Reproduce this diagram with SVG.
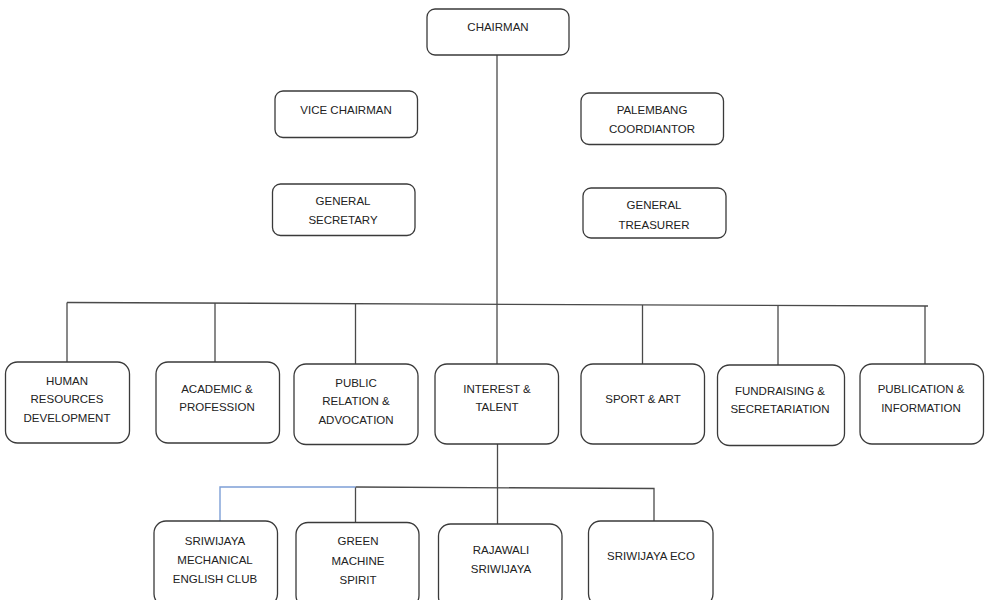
<svg xmlns="http://www.w3.org/2000/svg" width="986" height="600" viewBox="0 0 986 600">
<style>
.box{fill:#fff;stroke:#3a3a3a;stroke-width:1.3}
.t{font-family:"Liberation Sans",Arial,sans-serif;font-size:11.5px;fill:#222;text-anchor:middle}
.ln{stroke:#4a4a4a;stroke-width:1.3;fill:none}
.blue{stroke:#7d9fd6;stroke-width:1.4;fill:none}
</style>
<rect width="986" height="600" fill="#fff"/>
<g id="connectors">
<line class="ln" x1="497" y1="55" x2="497" y2="364"/>
<line class="ln" x1="67" y1="302.5" x2="928" y2="306"/>
<line class="ln" x1="67" y1="302.5" x2="67" y2="362"/>
<line class="ln" x1="215" y1="303" x2="215" y2="362"/>
<line class="ln" x1="355.5" y1="304" x2="355.5" y2="364"/>
<line class="ln" x1="642.5" y1="305" x2="642.5" y2="364"/>
<line class="ln" x1="778" y1="305.5" x2="778" y2="365"/>
<line class="ln" x1="925" y1="306" x2="925" y2="364"/>
<line class="ln" x1="497.5" y1="444" x2="497.5" y2="524"/>
<polyline class="ln" points="355.5,487 654,488.5 654,521"/>
<line class="ln" x1="355.5" y1="487" x2="355.5" y2="522.5"/>
<polyline class="blue" points="220,521 220,487 355.5,487"/>
</g>
<g id="chairman"><rect class="box" x="427" y="9" width="142" height="46" rx="8"/><text class="t" x="498" y="31">CHAIRMAN</text></g>
<g id="vice-chairman"><rect class="box" x="275" y="91" width="142.5" height="46.5" rx="8"/><text class="t" x="346" y="114">VICE CHAIRMAN</text></g>
<g id="palembang-coordinator"><rect class="box" x="581" y="93" width="142.5" height="51.5" rx="8"/><text class="t" x="652" y="113.5">PALEMBANG</text><text class="t" x="652" y="133">COORDIANTOR</text></g>
<g id="general-secretary"><rect class="box" x="272.5" y="184" width="142.5" height="51.5" rx="8"/><text class="t" x="343" y="205">GENERAL</text><text class="t" x="343" y="224">SECRETARY</text></g>
<g id="general-treasurer"><rect class="box" x="583" y="188" width="143" height="50" rx="8"/><text class="t" x="654" y="209">GENERAL</text><text class="t" x="654" y="228.5">TREASURER</text></g>
<g id="hrd"><rect class="box" x="5.5" y="362" width="124" height="81" rx="12"/><text class="t" x="67" y="384.5">HUMAN</text><text class="t" x="67" y="403">RESOURCES</text><text class="t" x="67" y="421.5">DEVELOPMENT</text></g>
<g id="academic"><rect class="box" x="156" y="362" width="123.5" height="81" rx="12"/><text class="t" x="217" y="392.5">ACADEMIC &amp;</text><text class="t" x="217" y="411">PROFESSION</text></g>
<g id="public-relation"><rect class="box" x="294" y="364" width="124" height="80.5" rx="12"/><text class="t" x="356" y="386.5">PUBLIC</text><text class="t" x="356" y="405">RELATION &amp;</text><text class="t" x="356" y="423.5">ADVOCATION</text></g>
<g id="interest-talent"><rect class="box" x="435" y="364" width="123.5" height="80" rx="12"/><text class="t" x="497" y="392.5">INTEREST &amp;</text><text class="t" x="497" y="411">TALENT</text></g>
<g id="sport-art"><rect class="box" x="581" y="364" width="123.5" height="80" rx="12"/><text class="t" x="643" y="403">SPORT &amp; ART</text></g>
<g id="fundraising"><rect class="box" x="717.5" y="365" width="127" height="80.5" rx="12"/><text class="t" x="780" y="394.5">FUNDRAISING &amp;</text><text class="t" x="780" y="413">SECRETARIATION</text></g>
<g id="publication"><rect class="box" x="860" y="364" width="123.5" height="80" rx="12"/><text class="t" x="921" y="393">PUBLICATION &amp;</text><text class="t" x="921" y="411.5">INFORMATION</text></g>
<g id="sriwijaya-mech"><rect class="box" x="154" y="521" width="123.5" height="85" rx="12"/><text class="t" x="215" y="544.5">SRIWIJAYA</text><text class="t" x="215" y="564">MECHANICAL</text><text class="t" x="215" y="583">ENGLISH CLUB</text></g>
<g id="green-machine"><rect class="box" x="296" y="522.5" width="123" height="85" rx="12"/><text class="t" x="358" y="545">GREEN</text><text class="t" x="358" y="564.5">MACHINE</text><text class="t" x="358" y="583.5">SPIRIT</text></g>
<g id="rajawali"><rect class="box" x="438.5" y="524" width="123.5" height="85" rx="12"/><text class="t" x="501" y="553.5">RAJAWALI</text><text class="t" x="501" y="573">SRIWIJAYA</text></g>
<g id="sriwijaya-eco"><rect class="box" x="588.5" y="521" width="124.5" height="85" rx="12"/><text class="t" x="651" y="560">SRIWIJAYA ECO</text></g>
</svg>
